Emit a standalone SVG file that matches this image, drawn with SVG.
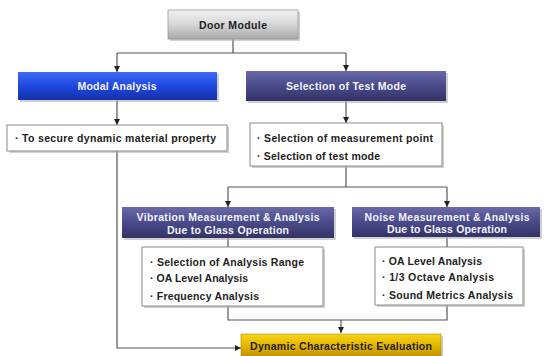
<svg xmlns="http://www.w3.org/2000/svg" width="546" height="356" viewBox="0 0 546 356">
<defs>
<linearGradient id="gGray" x1="0" y1="0" x2="0" y2="1"><stop offset="0" stop-color="#f2f2f2"/><stop offset="0.5" stop-color="#d6d6d6"/><stop offset="1" stop-color="#a9a9a9"/></linearGradient>
<linearGradient id="gBlue" x1="0" y1="0" x2="0" y2="1"><stop offset="0" stop-color="#3d6cf5"/><stop offset="0.5" stop-color="#1f48e0"/><stop offset="1" stop-color="#1530a8"/></linearGradient>
<linearGradient id="gPurple" x1="0" y1="0" x2="0" y2="1"><stop offset="0" stop-color="#6a6aa8"/><stop offset="0.5" stop-color="#4a4a8a"/><stop offset="1" stop-color="#333366"/></linearGradient>
<linearGradient id="gGold" x1="0" y1="0" x2="0" y2="1"><stop offset="0" stop-color="#f7d21a"/><stop offset="0.5" stop-color="#e6b800"/><stop offset="1" stop-color="#c49400"/></linearGradient>
<marker id="arr" viewBox="0 0 6 6" refX="6" refY="3" markerWidth="6" markerHeight="6" markerUnits="userSpaceOnUse" orient="auto"><path d="M0,0 L6,3 L0,6 z" fill="#222"/></marker>
</defs>
<style>
.conn path{fill:none;stroke:#555;stroke-width:1.2}
.shadow{fill:#b0b0b0;opacity:0.6}
.txtbox{fill:#fff;stroke:#8a8a8a;stroke-width:1}
.hdr{font-family:"Liberation Sans",Arial,sans-serif;font-weight:bold;font-size:10.5px;text-anchor:middle}
.w{fill:#f2f2fa}
.d{fill:#222}
.body{font-family:"Liberation Sans",Arial,sans-serif;font-weight:bold;font-size:10.5px;fill:#222}
</style>
<rect width="546" height="356" fill="#fff"/>
<g class="conn">
<path d="M233 39 V53"/>
<path d="M117 53 H346"/>
<path d="M117 53 V72" marker-end="url(#arr)"/>
<path d="M346 53 V71" marker-end="url(#arr)"/>
<path d="M117 100 V125" marker-end="url(#arr)"/>
<path d="M346 101 V123" marker-end="url(#arr)"/>
<path d="M117 151 V348 H241" marker-end="url(#arr)"/>
<path d="M346 166 V187"/>
<path d="M228 187 H447"/>
<path d="M228 187 V207" marker-end="url(#arr)"/>
<path d="M447 187 V207" marker-end="url(#arr)"/>
<path d="M228 238 V247"/>
<path d="M447 237 V247"/>
<path d="M228 306 V320 H447 V305"/>
<path d="M341 320 V333" marker-end="url(#arr)"/>
</g>
<g id="door-module">
<rect class="shadow" x="170" y="12" width="130" height="29"/>
<rect x="168" y="10" width="130" height="29" fill="url(#gGray)" stroke="#999" stroke-width="0.8"/>
<text class="hdr d" x="233" y="28.5" textLength="68">Door Module</text>
</g>
<g id="modal-analysis">
<rect class="shadow" x="20" y="74" width="199" height="28"/>
<rect x="18" y="72" width="199" height="28" fill="url(#gBlue)"/>
<text class="hdr w" x="117" y="90" textLength="79">Modal Analysis</text>
</g>
<g id="selection-test-mode">
<rect class="shadow" x="248" y="73" width="200" height="30"/>
<rect x="246" y="71" width="200" height="30" fill="url(#gPurple)"/>
<text class="hdr w" x="346" y="90" textLength="120">Selection of Test Mode</text>
</g>
<g id="secure-property">
<rect class="shadow" x="9" y="127" width="220" height="26"/>
<rect class="txtbox" x="7" y="125" width="220" height="26"/>
<text class="body" x="15" y="142" textLength="201">· To secure dynamic material property</text>
</g>
<g id="selection-points">
<rect class="shadow" x="252" y="125" width="192" height="43"/>
<rect class="txtbox" x="250" y="123" width="192" height="43"/>
<text class="body" x="257" y="142" textLength="176">· Selection of measurement point</text>
<text class="body" x="257" y="160" textLength="123">· Selection of test mode</text>
</g>
<g id="vibration">
<rect class="shadow" x="124" y="209" width="212" height="31"/>
<rect x="122" y="207" width="212" height="31" fill="url(#gPurple)"/>
<text class="hdr w" x="228" y="221" textLength="183">Vibration Measurement &amp; Analysis</text>
<text class="hdr w" x="228" y="233.5" textLength="122">Due to Glass Operation</text>
</g>
<g id="noise">
<rect class="shadow" x="354" y="209" width="188" height="30"/>
<rect x="352" y="207" width="188" height="30" fill="url(#gPurple)"/>
<text class="hdr w" x="447" y="220.5" textLength="165">Noise Measurement &amp; Analysis</text>
<text class="hdr w" x="447" y="233" textLength="120">Due to Glass Operation</text>
</g>
<g id="vibration-items">
<rect class="shadow" x="144" y="249" width="181" height="59"/>
<rect class="txtbox" x="142" y="247" width="181" height="59"/>
<text class="body" x="150" y="266" textLength="154">· Selection of Analysis Range</text>
<text class="body" x="150" y="282" textLength="98">· OA Level Analysis</text>
<text class="body" x="150" y="300" textLength="109">· Frequency Analysis</text>
</g>
<g id="noise-items">
<rect class="shadow" x="377" y="249" width="148" height="58"/>
<rect class="txtbox" x="375" y="247" width="148" height="58"/>
<text class="body" x="382" y="265" textLength="100">· OA Level Analysis</text>
<text class="body" x="382" y="281" textLength="112">· 1/3 Octave Analysis</text>
<text class="body" x="382" y="299" textLength="131">· Sound Metrics Analysis</text>
</g>
<g id="dynamic-evaluation">
<rect class="shadow" x="243" y="336" width="200" height="22"/>
<rect x="241" y="334" width="200" height="22" fill="url(#gGold)" stroke="#b08a00" stroke-width="0.6"/>
<text class="hdr d" x="341" y="349.5" textLength="182">Dynamic Characteristic Evaluation</text>
</g>
</svg>
